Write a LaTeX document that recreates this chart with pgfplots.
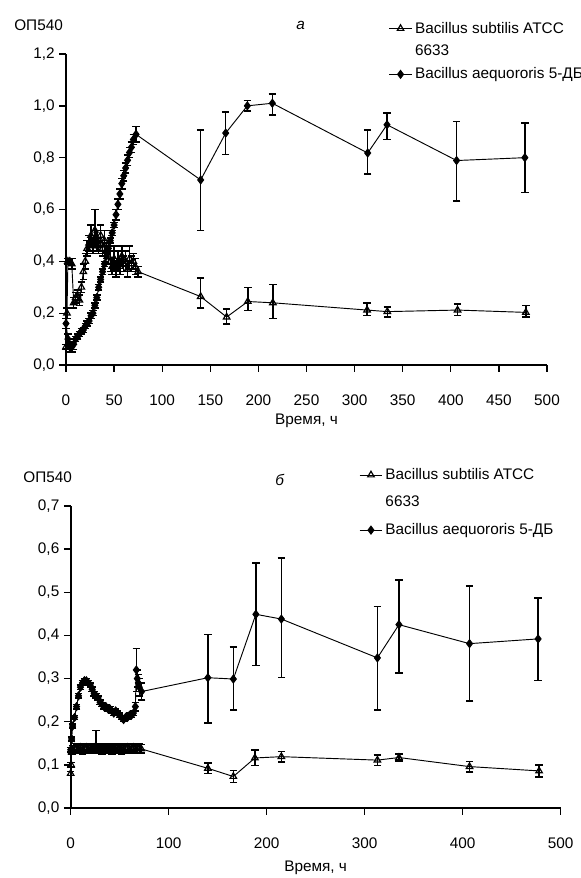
\documentclass[border=0pt]{standalone}
\usepackage{fontspec}
\setmainfont{Liberation Sans}
\usepackage{pgfplots}
\usepackage{pgfplotstable}
\pgfplotsset{compat=1.18}

% top panel (a)
\pgfplotstableread{
t y ep em
0 0.16 0.02 0.02
2 0.10 0.02 0.02
4 0.07 0.02 0.02
6 0.07 0.02 0.02
8 0.08 0.02 0.02
10 0.10 0.01 0.01
12 0.11 0.01 0.01
14 0.12 0.01 0.01
16 0.13 0.01 0.01
18 0.135 0.01 0.01
20 0.15 0.01 0.01
22 0.16 0.01 0.01
24 0.17 0.01 0.01
26 0.19 0.01 0.01
28 0.20 0.01 0.01
30 0.23 0.01 0.01
32 0.26 0.01 0.01
34 0.30 0.01 0.01
36 0.33 0.01 0.01
38 0.36 0.01 0.01
40 0.39 0.01 0.01
42 0.42 0.01 0.01
44 0.45 0.01 0.01
46 0.48 0.01 0.01
48 0.51 0.01 0.01
50 0.54 0.01 0.01
52 0.58 0.02 0.02
54 0.62 0.02 0.02
56 0.66 0.02 0.02
58 0.70 0.02 0.02
60 0.73 0.02 0.02
62 0.76 0.02 0.02
64 0.79 0.02 0.02
66 0.82 0.02 0.02
68 0.84 0.02 0.02
70 0.87 0.02 0.02
72.8 0.89 0.03 0.03
140 0.714 0.193 0.195
166 0.895 0.081 0.083
188.5 1.00 0.02 0.02
214.5 1.01 0.035 0.045
313.6 0.818 0.089 0.081
333.7 0.927 0.046 0.057
406 0.789 0.151 0.156
477 0.80 0.134 0.135
}\aeqA

\pgfplotstableread{
t y ep em
0 0.07 0.01 0.01
1 0.20 0.02 0.02
2 0.40 0.01 0.01
4 0.40 0.01 0.01
6 0.39 0.02 0.02
8 0.24 0.02 0.02
10 0.26 0.02 0.02
12 0.27 0.02 0.02
14 0.25 0.02 0.02
16 0.30 0.02 0.02
18 0.36 0.03 0.03
20 0.40 0.03 0.03
22 0.45 0.03 0.03
24 0.47 0.03 0.03
26 0.50 0.04 0.04
28 0.46 0.03 0.03
30 0.52 0.08 0.06
32 0.48 0.04 0.04
34 0.46 0.03 0.03
36 0.50 0.04 0.04
38 0.45 0.03 0.03
40 0.48 0.04 0.04
42 0.44 0.03 0.03
44 0.42 0.03 0.03
46 0.40 0.04 0.04
48 0.38 0.03 0.03
50 0.41 0.05 0.05
52 0.37 0.03 0.03
54 0.40 0.04 0.04
56 0.38 0.03 0.03
58 0.42 0.04 0.04
60 0.39 0.03 0.03
62 0.40 0.04 0.04
64 0.37 0.03 0.03
66 0.41 0.05 0.04
68 0.39 0.03 0.03
70 0.40 0.03 0.03
72 0.38 0.03 0.03
75 0.36 0.02 0.02
140 0.264 0.072 0.044
167 0.185 0.031 0.027
189 0.245 0.055 0.035
215 0.24 0.07 0.06
313 0.212 0.028 0.022
334 0.206 0.018 0.021
407 0.212 0.023 0.022
478 0.203 0.027 0.017
}\subA

% bottom panel (b)
\pgfplotstableread{
t y ep em
0 0.135 0.005 0.005
1 0.16 0.005 0.005
2 0.19 0.005 0.005
4 0.21 0.005 0.005
6 0.235 0.005 0.005
8 0.26 0.005 0.005
10 0.28 0.005 0.005
12 0.29 0.005 0.005
14 0.295 0.005 0.005
16 0.295 0.005 0.005
18 0.29 0.005 0.005
20 0.285 0.005 0.005
22 0.275 0.005 0.005
24 0.265 0.005 0.005
26 0.26 0.005 0.005
28 0.255 0.005 0.005
30 0.245 0.005 0.005
32 0.24 0.005 0.005
34 0.235 0.005 0.005
36 0.235 0.005 0.005
38 0.23 0.005 0.005
40 0.23 0.005 0.005
42 0.225 0.005 0.005
44 0.22 0.005 0.005
46 0.225 0.005 0.005
48 0.22 0.005 0.005
50 0.215 0.005 0.005
52 0.21 0.005 0.005
54 0.205 0.005 0.005
56 0.21 0.005 0.005
58 0.21 0.005 0.005
60 0.215 0.005 0.005
62 0.215 0.005 0.005
64 0.22 0.005 0.005
66 0.235 0.01 0.01
67 0.32 0.05 0.05
68 0.30 0.02 0.02
69 0.29 0.02 0.02
70 0.28 0.02 0.02
72.4 0.27 0.02 0.02
140 0.302 0.10 0.105
166 0.299 0.074 0.072
189 0.449 0.119 0.119
215 0.438 0.142 0.136
313 0.348 0.119 0.121
335 0.425 0.104 0.112
407 0.381 0.134 0.133
477 0.392 0.095 0.097
}\aeqB

\pgfplotstableread{
t y ep em
0 0.08 0.005 0.005
0.5 0.10 0.005 0.005
1 0.13 0.005 0.005
2 0.135 0.01 0.01
4 0.14 0.01 0.01
6 0.138 0.01 0.01
8 0.136 0.01 0.01
10 0.14 0.01 0.01
12 0.135 0.01 0.01
14 0.138 0.01 0.01
16 0.14 0.01 0.01
18 0.136 0.01 0.01
20 0.139 0.01 0.01
22 0.137 0.01 0.01
24 0.14 0.01 0.01
26 0.14 0.04 0.01
28 0.136 0.01 0.01
30 0.138 0.01 0.01
32 0.135 0.01 0.01
34 0.137 0.01 0.01
36 0.139 0.01 0.01
38 0.136 0.01 0.01
40 0.138 0.01 0.01
42 0.135 0.01 0.01
44 0.137 0.01 0.01
46 0.139 0.01 0.01
48 0.136 0.01 0.01
50 0.138 0.01 0.01
52 0.135 0.01 0.01
54 0.137 0.01 0.01
56 0.139 0.01 0.01
58 0.14 0.01 0.01
60 0.137 0.01 0.01
62 0.138 0.01 0.01
64 0.14 0.01 0.01
66 0.137 0.01 0.01
68 0.139 0.01 0.01
70 0.138 0.01 0.01
72 0.137 0.01 0.01
140 0.092 0.012 0.012
166 0.073 0.014 0.014
188 0.116 0.018 0.018
215 0.119 0.012 0.012
313 0.111 0.012 0.012
335 0.117 0.008 0.008
407 0.096 0.012 0.012
478 0.086 0.014 0.014
}\subB

\pgfplotsset{
  panel/.style={
    scale only axis,
    clip=false,
    xmin=0, xmax=500, ymin=0,
    enlargelimits=false,
    axis x line*=bottom, axis y line*=left,
    axis line style={line width=1.3pt, -},
    tick align=outside,
    major tick length=5pt,
    tick style={line width=1pt, black},
    font=\fontsize{11.5}{13.5}\selectfont,
    tick label style={font=\fontsize{11.5}{13.5}\selectfont},
    /pgf/number format/assume math mode=true,
    xticklabel style={yshift=-14pt},
    yticklabel style={/pgf/number format/.cd, fixed, fixed zerofill, precision=1, use comma},
    xlabel={Время, ч},
    legend cell align=left,
    legend style={draw=none, fill=none,
      font=\fontsize{11.5}{13.5}\selectfont},
    legend image post style={line width=0.7pt},
    error bars/y dir=both,
    error bars/y explicit,
    error bars/error bar style={line width=1.1pt, black},
    error bars/error mark options={rotate=90, mark size=2.8pt, line width=1.1pt, black},
  },
  sub/.style={black, line width=0.7pt, mark=triangle, mark size=2.8pt,
    mark options={fill=white, solid, line width=0.9pt}},
  aeq/.style={black, line width=0.7pt, mark=diamond*, mark size=3pt,
    mark options={fill=black, solid}},
}

\begin{document}
\begin{tikzpicture}
\useasboundingbox (0pt,0pt) rectangle (435.75pt,-658.5pt);

\begin{axis}[panel,
  at={(49.5pt,-273.75pt)}, anchor=south west,
  width=360.75pt, height=233.25pt,
  ymax=1.2,
  xtick={0,50,...,500},
  ytick={0,0.2,...,1.2},
  xlabel style={at={(axis description cs:0.5,0)}, anchor=center, yshift=-42pt},
  legend style={at={(axis description cs:0.662,1.121)}, anchor=north west, row sep=3.5pt},
]
\addplot[sub] table[x=t, y=y, y error plus=ep, y error minus=em] {\subA};
\addlegendentry{Bacillus subtilis ATCC}
\addlegendimage{empty legend}
\addlegendentry{6633}
\addplot[aeq] table[x=t, y=y, y error plus=ep, y error minus=em] {\aeqA};
\addlegendentry{Bacillus aequororis 5-ДБ}
\node at (axis description cs:-0.057,1.093) {ОП540};
\node at (axis description cs:0.488,1.093) {\textit{а}};
\end{axis}

\begin{axis}[panel,
  at={(53pt,-606pt)}, anchor=south west,
  width=367.5pt, height=226.5pt,
  ymax=0.7,
  xtick={0,100,...,500},
  ytick={0,0.1,...,0.7},
  xlabel style={at={(axis description cs:0.5,0)}, anchor=center, yshift=-45pt},
  legend style={at={(axis description cs:0.58,1.143)}, anchor=north west, row sep=7pt},
]
\addplot[sub] table[x=t, y=y, y error plus=ep, y error minus=em] {\subB};
\addlegendentry{Bacillus subtilis ATCC}
\addlegendimage{empty legend}
\addlegendentry{6633}
\addplot[aeq] table[x=t, y=y, y error plus=ep, y error minus=em] {\aeqB};
\addlegendentry{Bacillus aequororis 5-ДБ}
\node at (axis description cs:-0.047,1.097) {ОП540};
\node at (axis description cs:0.427,1.086) {\textit{б}};
\end{axis}
\end{tikzpicture}
\end{document}
